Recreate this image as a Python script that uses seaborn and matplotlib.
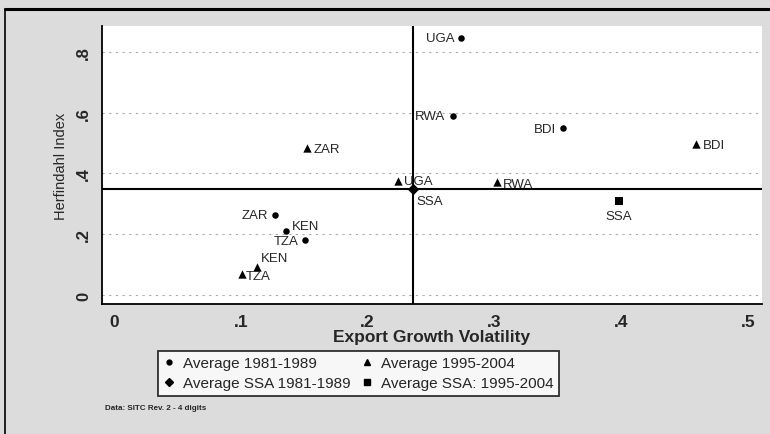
import matplotlib
matplotlib.use("Agg")
import matplotlib.pyplot as plt
from matplotlib.lines import Line2D
import seaborn as sns
import pandas as pd

# ---- data ----
countries_81 = ["UGA", "RWA", "BDI", "ZAR", "KEN", "TZA"]
vol_81 = [0.274, 0.267, 0.354, 0.127, 0.136, 0.151]
herf_81 = [0.845, 0.589, 0.549, 0.263, 0.210, 0.181]

countries_95 = ["ZAR", "UGA", "RWA", "BDI", "KEN", "TZA"]
vol_95 = [0.152, 0.224, 0.302, 0.459, 0.1125, 0.101]
herf_95 = [0.484, 0.374, 0.371, 0.497, 0.091, 0.070]

ssa_label = ["SSA"]
ssa_vol_81 = [0.236]
ssa_herf_81 = [0.349]
ssa_vol_95 = [0.398]
ssa_herf_95 = [0.310]

series_names = ["Average 1981-1989", "Average 1995-2004",
                "Average SSA 1981-1989", "Average SSA: 1995-2004"]
x_ticks = [0, 0.1, 0.2, 0.3, 0.4, 0.5]
x_ticklabels = ["0", ".1", ".2", ".3", ".4", ".5"]
y_ticks = [0, 0.2, 0.4, 0.6, 0.8]
y_ticklabels = ["0", ".2", ".4", ".6", ".8"]

rows = []
for c, x, y in zip(countries_81, vol_81, herf_81):
    rows.append(dict(label=c, vol=x, herf=y, group=series_names[0]))
for c, x, y in zip(countries_95, vol_95, herf_95):
    rows.append(dict(label=c, vol=x, herf=y, group=series_names[1]))
rows.append(dict(label=ssa_label[0], vol=ssa_vol_81[0], herf=ssa_herf_81[0], group=series_names[2]))
rows.append(dict(label=ssa_label[0], vol=ssa_vol_95[0], herf=ssa_herf_95[0], group=series_names[3]))
df = pd.DataFrame(rows)

sns.set_style("white")
plt.rcParams["font.family"] = ["Liberation Sans", "DejaVu Sans"]

fig = plt.figure(figsize=(7.7, 4.35), dpi=100)
fig.patch.set_facecolor("#dcdcdc")
ax = fig.add_axes([102 / 770, 1 - 305 / 435, 660 / 770, 278 / 435])
ax.set_facecolor("white")

markers = {series_names[0]: "o", series_names[1]: "^",
           series_names[2]: "D", series_names[3]: "s"}
sizes = {series_names[0]: 22, series_names[1]: 36,
         series_names[2]: 34, series_names[3]: 40}
for g in series_names:
    sub = df[df.group == g]
    sns.scatterplot(data=sub, x="vol", y="herf", marker=markers[g], s=sizes[g],
                    color="black", edgecolor="black", linewidth=0, ax=ax, legend=False, zorder=4)

# reference lines
ax.axvline(ssa_vol_81[0], color="black", lw=1.5, zorder=3)
ax.axhline(ssa_herf_81[0], color="black", lw=1.5, zorder=3)

# labels (offset in points)
offsets_81 = {"UGA": (-5, 0, "right", "center"), "RWA": (-5, 0, "right", "center"),
              "BDI": (-5, -1, "right", "center"), "ZAR": (-5, 0, "right", "center"),
              "KEN": (4, 4, "left", "center"), "TZA": (-5, -1, "right", "center")}
offsets_95 = {"ZAR": (5, -1, "left", "center"), "UGA": (4, 0, "left", "center"),
              "RWA": (4, -1, "left", "center"), "BDI": (5, -1, "left", "center"),
              "KEN": (3, 7, "left", "center"), "TZA": (3, -2, "left", "center")}
fs = 9.5
for c, x, y in zip(countries_81, vol_81, herf_81):
    dx, dy, ha, va = offsets_81[c]
    ax.annotate(c, (x, y), xytext=(dx, dy), textcoords="offset points",
                ha=ha, va=va, fontsize=fs, zorder=5)
for c, x, y in zip(countries_95, vol_95, herf_95):
    dx, dy, ha, va = offsets_95[c]
    ax.annotate(c, (x, y), xytext=(dx, dy), textcoords="offset points",
                ha=ha, va=va, fontsize=fs, zorder=5)
ax.annotate(ssa_label[0], (ssa_vol_81[0], ssa_herf_81[0]), xytext=(2, -9),
            textcoords="offset points", ha="left", va="center", fontsize=fs)
ax.annotate(ssa_label[0], (ssa_vol_95[0], ssa_herf_95[0]), xytext=(0, -11),
            textcoords="offset points", ha="center", va="center", fontsize=fs)

ax.set_xlim((102 - 114) / 1268, (762 - 114) / 1268)
ax.set_ylim((296 - 305) / 304, (296 - 27) / 304)
ax.set_xticks(x_ticks)
ax.set_xticklabels(x_ticklabels, fontsize=12.5, fontweight="bold")
ax.set_yticks(y_ticks)
ax.set_yticklabels(y_ticklabels, fontsize=12, fontweight="bold", rotation=90, va="center")
ax.tick_params(axis="both", direction="out", length=5, width=1.2, color="black", pad=3)
ax.tick_params(axis="x", pad=2)
ax.yaxis.grid(True, color="#aaaaaa", linestyle=(0, (2, 4)), linewidth=0.8)
ax.xaxis.grid(False)
for s in ["top", "right"]:
    ax.spines[s].set_visible(False)
for s in ["left", "bottom"]:
    ax.spines[s].set_color("black")
    ax.spines[s].set_linewidth(1.3)

ax.set_xlabel("Export Growth Volatility", fontsize=12.5, fontweight="bold", labelpad=0)
ax.set_ylabel("Herfindahl Index", fontsize=10.5, labelpad=6)

handles = [
    Line2D([], [], marker="o", color="black", linestyle="none", markersize=3.5),
    Line2D([], [], marker="^", color="black", linestyle="none", markersize=4.5),
    Line2D([], [], marker="D", color="black", linestyle="none", markersize=4.5),
    Line2D([], [], marker="s", color="black", linestyle="none", markersize=4.5),
]
# order rows: col1 = 1981, SSA 1981 ; col2 = 1995, SSA 1995
order = [0, 2, 1, 3]
leg = fig.legend([handles[i] for i in order], [series_names[i] for i in order],
                 loc="upper left", bbox_to_anchor=(158 / 770, 1 - 352 / 435),
                 ncol=2, fontsize=11, frameon=True, fancybox=False,
                 borderpad=0.35, labelspacing=0.4, handletextpad=0.5, handlelength=0.8,
                 borderaxespad=0, columnspacing=0.65)
leg.get_frame().set_edgecolor("black")
leg.get_frame().set_linewidth(1.3)
leg.get_frame().set_facecolor("white")

fig.text(105 / 770, 1 - 409 / 435, "Data: SITC Rev. 2 - 4 digits", fontsize=5.8,
         fontweight="bold", ha="left", va="center")

# figure border lines
fig.add_artist(Line2D([5 / 770, 1], [1 - 10 / 435, 1 - 10 / 435], color="black", lw=2.2,
                      transform=fig.transFigure))
fig.add_artist(Line2D([5 / 770, 5 / 770], [0, 1 - 10 / 435], color="black", lw=1.2,
                      transform=fig.transFigure))

fig.savefig("out.png", dpi=100, facecolor=fig.get_facecolor())
